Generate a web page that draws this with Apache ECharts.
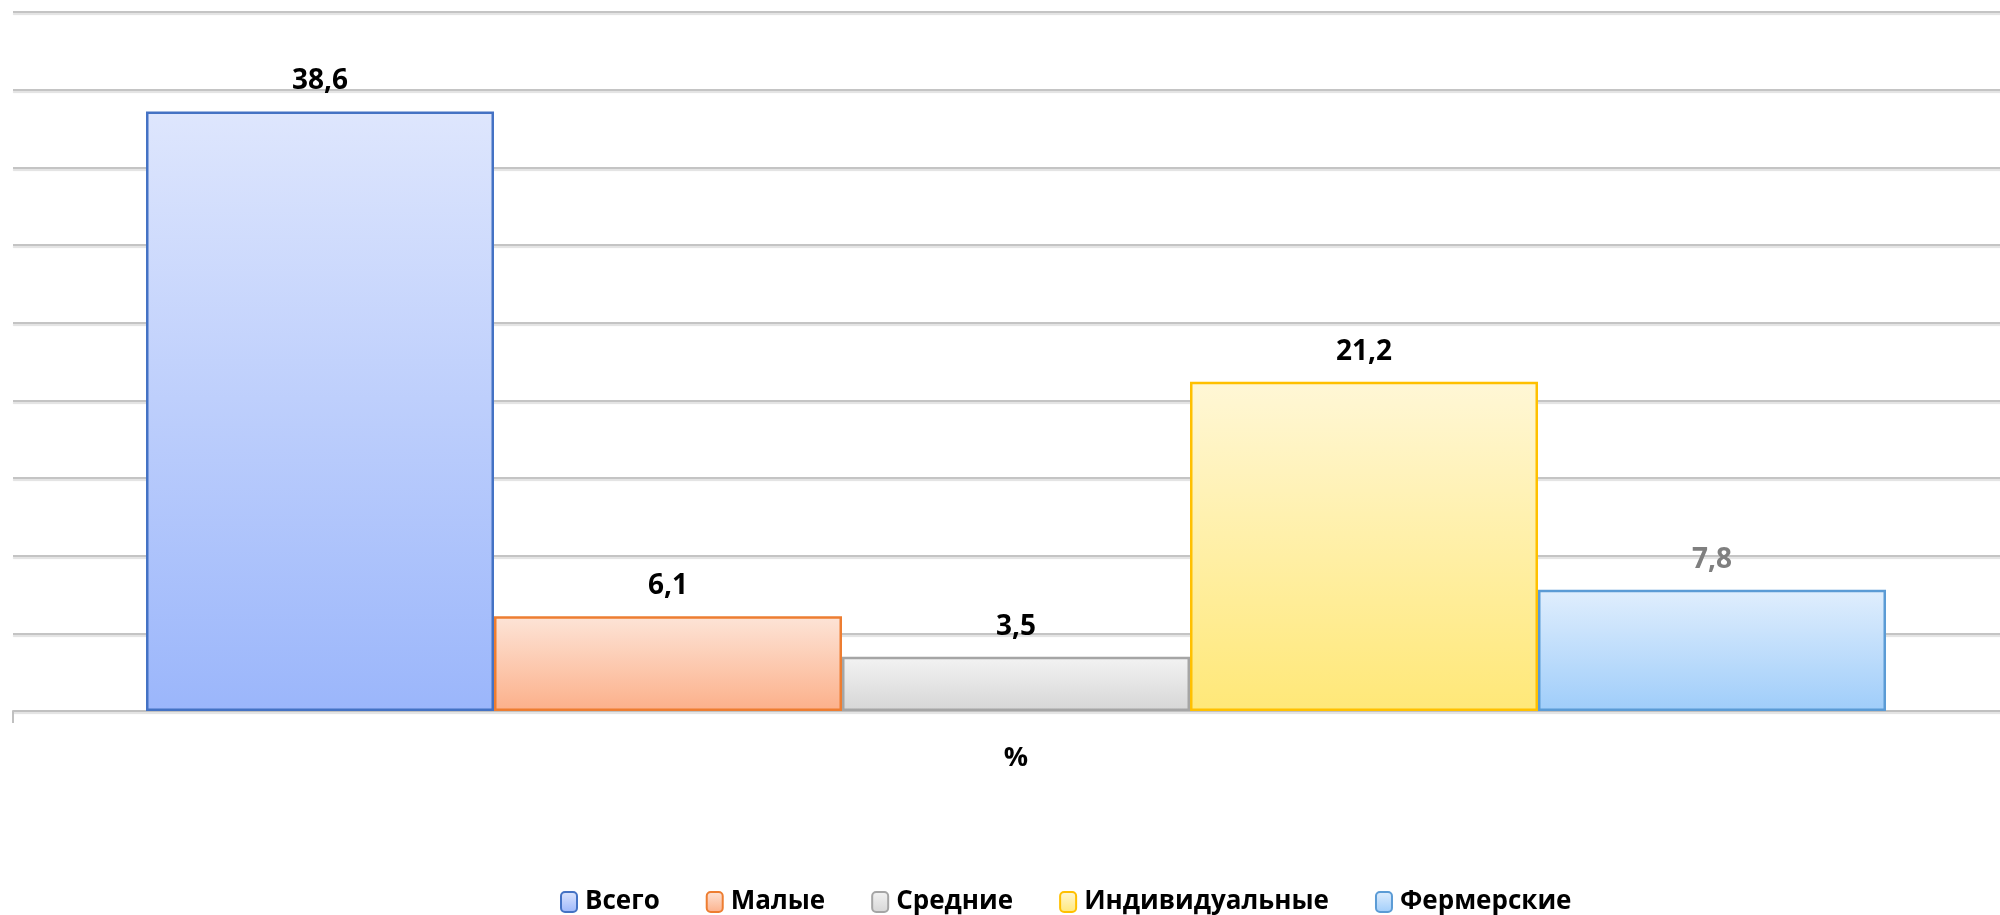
<!DOCTYPE html>
<html>
  <head>
    <meta charset="utf-8" />
    <title>ECharts</title>
    <script src="https://cdn.jsdelivr.net/npm/echarts@6/dist/echarts.min.js"></script>
    <style>
      body { margin: 0; background: #fff; }
    </style>
  </head>
  <body>
    <div id="main" style="width: 2000px; height: 915px"></div>
    <script type="text/javascript">
      // data
      var categories = ["%"];
      var seriesNames = ["Всего", "Малые", "Средние", "Индивидуальные", "Фермерские"];
      var values = [38.6, 6.1, 3.5, 21.2, 7.8];

      // look of each bar: gradient top/bottom, border, label colour
      var topColors = ["#dee6fd", "#fde4d7", "#f3f3f3", "#fff7d6", "#e0eefd"];
      var bottomColors = ["#9bb6fb", "#fcb08a", "#d6d6d6", "#ffe878", "#9fcdfa"];
      var borderColors = ["#4472c4", "#ed7d31", "#a5a5a5", "#ffc000", "#5b9bd5"];
      var labelColors = ["#000", "#000", "#000", "#000", "#7f7f7f"];

      var font = "'Open Sans', sans-serif";

      var myChart = echarts.init(document.getElementById("main"));

      var series = [];
      for (var i = 0; i < seriesNames.length; i++) {
        series.push({
          name: seriesNames[i],
          type: "bar",
          barGap: "0%",
          barWidth: 348,
          data: [values[i]],
          itemStyle: {
            color: new echarts.graphic.LinearGradient(0, 0, 0, 1, [
              { offset: 0, color: topColors[i] },
              { offset: 1, color: bottomColors[i] },
            ]),
            borderColor: borderColors[i],
            borderWidth: 2.5,
          },
          label: {
            show: true,
            position: "top",
            distance: 16,
            color: labelColors[i],
            fontFamily: font,
            fontWeight: "bold",
            fontSize: 28,
            formatter: function (p) {
              return String(p.value).replace(".", ",");
            },
          },
        });
      }

      var option = {
        animation: false,
        backgroundColor: "#fff",
        grid: {
          left: 13,
          width: 2006,
          top: 12,
          bottom: 204,
          outerBoundsMode: "none",
        },
        legend: {
          data: seriesNames,
          bottom: -5,
          left: 555,
          itemWidth: 16,
          itemHeight: 20,
          itemGap: 46,
          textStyle: {
            fontFamily: font,
            fontWeight: "bold",
            fontSize: 26,
            color: "#000",
            padding: [0, 0, 0, 3],
          },
        },
        xAxis: {
          type: "category",
          data: categories,
          axisLine: { lineStyle: { color: "#c0c0c0", width: 2 } },
          axisTick: { show: true, length: 12, lineStyle: { color: "#c0c0c0", width: 2 } },
          axisLabel: {
            margin: 34,
            color: "#000",
            fontFamily: font,
            fontWeight: "bold",
            fontSize: 27,
          },
        },
        yAxis: {
          type: "value",
          min: 0,
          max: 45,
          interval: 5,
          axisLabel: { show: false },
          axisLine: { show: false },
          axisTick: { show: false },
          splitLine: {
            lineStyle: {
              color: "#c4c4c4",
              width: 2,
              shadowColor: "rgba(0,0,0,0.12)",
              shadowOffsetY: 2,
              shadowBlur: 1,
            },
          },
        },
        series: series,
      };

      myChart.setOption(option);
    </script>
  </body>
</html>
